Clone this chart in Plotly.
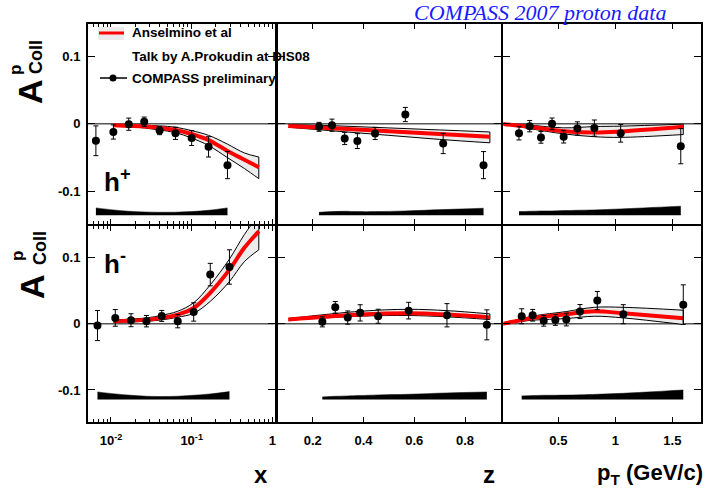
import plotly.graph_objects as go

W, H = 708, 495

# ---------------- data ----------------
# x-dependence, h+
x_hp = [0.0065, 0.0107, 0.0166, 0.0258, 0.040, 0.063, 0.100, 0.162, 0.278]
a_x_hp = [-0.025, -0.012, -0.0005, 0.003, -0.010, -0.014, -0.021, -0.034, -0.061]
e_x_hp = [0.022, 0.0105, 0.009, 0.007, 0.006, 0.009, 0.011, 0.015, 0.020]
s_x_hp = [0.0105, 0.0075, 0.0055, 0.0045, 0.004, 0.0042, 0.005, 0.007, 0.0105]
# x-dependence, h-
x_hm = [0.0068, 0.0113, 0.0177, 0.0275, 0.0426, 0.0672, 0.106, 0.170, 0.294]
a_x_hm = [-0.0026, 0.009, 0.0055, 0.004, 0.012, 0.004, 0.018, 0.0745, 0.086]
e_x_hm = [0.0227, 0.0126, 0.0098, 0.0086, 0.0083, 0.010, 0.0139, 0.017, 0.026]
s_x_hm = [0.011, 0.008, 0.006, 0.0045, 0.004, 0.0045, 0.006, 0.008, 0.0115]

# z-dependence
z_hp = [0.225, 0.276, 0.326, 0.376, 0.446, 0.565, 0.714, 0.873]
a_z_hp = [-0.0044, -0.002, -0.0216, -0.0255, -0.0142, 0.0138, -0.029, -0.061]
e_z_hp = [0.0066, 0.009, 0.009, 0.011, 0.009, 0.0105, 0.015, 0.020]
s_z_hp = [0.004, 0.005, 0.0055, 0.005, 0.005, 0.006, 0.008, 0.010]
z_hm = [0.238, 0.289, 0.338, 0.387, 0.458, 0.578, 0.729, 0.886]
a_z_hm = [0.003, 0.025, 0.0095, 0.0166, 0.0115, 0.020, 0.013, -0.0015]
e_z_hm = [0.0076, 0.0088, 0.010, 0.0123, 0.0106, 0.0126, 0.0176, 0.0227]
s_z_hm = [0.0035, 0.0045, 0.005, 0.0055, 0.0065, 0.0075, 0.0095, 0.011]

# pT-dependence
pt_hp = [0.155, 0.249, 0.348, 0.445, 0.547, 0.667, 0.816, 1.047, 1.574]
a_pt_hp = [-0.014, -0.0034, -0.020, 0.0, -0.019, -0.0068, -0.0063, -0.014, -0.033]
e_pt_hp = [0.0098, 0.0084, 0.0086, 0.0086, 0.0093, 0.0098, 0.012, 0.013, 0.026]
s_pt_hp = [0.005, 0.0055, 0.006, 0.006, 0.0065, 0.007, 0.0075, 0.009, 0.013]
pt_hm = [0.179, 0.275, 0.372, 0.474, 0.570, 0.690, 0.842, 1.070, 1.596]
a_pt_hm = [0.0115, 0.013, 0.0045, 0.006, 0.0065, 0.0186, 0.0352, 0.0146, 0.029]
e_pt_hm = [0.0113, 0.0088, 0.008, 0.0083, 0.0096, 0.0106, 0.0138, 0.0144, 0.030]
s_pt_hm = [0.005, 0.0055, 0.006, 0.006, 0.0062, 0.0066, 0.0075, 0.009, 0.014]

# theory (Anselmino et al): grid, central, upper, lower
tx_hp = [0.0107, 0.0166, 0.0258, 0.04, 0.063, 0.1, 0.162, 0.278, 0.45, 0.68]
tc_x_hp = [-0.002, -0.003, -0.004, -0.006, -0.009, -0.015, -0.024, -0.040, -0.053, -0.064]
tu_x_hp = [-0.001, -0.002, -0.002, -0.003, -0.005, -0.010, -0.017, -0.030, -0.043, -0.049]
tl_x_hp = [-0.003, -0.004, -0.006, -0.009, -0.013, -0.021, -0.032, -0.050, -0.066, -0.081]
tx_hm = [0.0107, 0.0275, 0.0426, 0.067, 0.106, 0.170, 0.294, 0.45, 0.68]
tc_x_hm = [0.004, 0.006, 0.009, 0.014, 0.024, 0.047, 0.082, 0.115, 0.140]
tu_x_hm = [0.006, 0.009, 0.013, 0.019, 0.032, 0.059, 0.098, 0.135, 0.165]
tl_x_hm = [0.0025, 0.004, 0.006, 0.010, 0.016, 0.034, 0.064, 0.094, 0.112]

tz_hp = [0.104, 0.3, 0.5, 0.7, 0.898]
tc_z_hp = [-0.003, -0.007, -0.011, -0.015, -0.019]
tu_z_hp = [-0.001, -0.003, -0.006, -0.009, -0.012]
tl_z_hp = [-0.005, -0.011, -0.017, -0.023, -0.028]
tz_hm = [0.104, 0.387, 0.578, 0.729, 0.898]
tc_z_hm = [0.0065, 0.014, 0.016, 0.014, 0.0098]
tu_z_hm = [0.008, 0.019, 0.022, 0.020, 0.0151]
tl_z_hm = [0.0055, 0.0116, 0.0126, 0.0106, 0.0065]

tpt_hp = [0.01, 0.249, 0.547, 0.816, 1.047, 1.596]
tc_pt_hp = [0.0, -0.0044, -0.0108, -0.0128, -0.0113, -0.0044]
tu_pt_hp = [0.0, -0.002, -0.0059, -0.004, -0.0034, -0.0005]
tl_pt_hp = [0.0, -0.007, -0.0148, -0.019, -0.020, -0.0158]
tpt_hm = [0.01, 0.275, 0.570, 0.816, 1.070, 1.596]
tc_pt_hm = [0.0, 0.009, 0.0146, 0.019, 0.016, 0.0083]
tu_pt_hm = [0.0, 0.0116, 0.0186, 0.025, 0.025, 0.0206]
tl_pt_hm = [0.0, 0.0055, 0.008, 0.0115, 0.009, -0.001]

sys_base_top = -0.1347
sys_base_bot = -0.114

y_ticks = [-0.1, 0.0, 0.1]
y_ticktext = ["-0.1", "0", "0.1"]
x_ticks = [0.01, 0.1, 1]
x_ticktext = ["10<sup>-2</sup>", "10<sup>-1</sup>", "1"]
x_minor = [m * d for d in (0.001, 0.01, 0.1) for m in range(2, 10)]
z_ticks = [0.2, 0.4, 0.6, 0.8]
z_ticktext = ["0.2", "0.4", "0.6", "0.8"]
pt_ticks = [0.5, 1.0, 1.5]
pt_ticktext = ["0.5", "1", "1.5"]

# ---------------- layout geometry (pixels) ----------------
# plot-area domains (frame lines of 2 px sit just outside them)
xdom_px = [(88, 274.5), (277.5, 501.3), (503.3, 701.3)]
ydom_px = [(23.7, 224), (226, 421.7)]
x_ranges = [[-2.285, 0.027], [0.0614, 0.943], [0.0175, 1.754]]
y_range = [-0.148, 0.148]


def px(v):
    return v / W


def py(v):
    return 1 - v / H


FONT = "Liberation Sans, Arial, sans-serif"
fig = go.Figure()

panels = [
    (0, 0, x_hp, a_x_hp, e_x_hp, s_x_hp, tx_hp, tc_x_hp, tu_x_hp, tl_x_hp, sys_base_top),
    (0, 1, z_hp, a_z_hp, e_z_hp, s_z_hp, tz_hp, tc_z_hp, tu_z_hp, tl_z_hp, sys_base_top),
    (0, 2, pt_hp, a_pt_hp, e_pt_hp, s_pt_hp, tpt_hp, tc_pt_hp, tu_pt_hp, tl_pt_hp, sys_base_top),
    (1, 0, x_hm, a_x_hm, e_x_hm, s_x_hm, tx_hm, tc_x_hm, tu_x_hm, tl_x_hm, sys_base_bot),
    (1, 1, z_hm, a_z_hm, e_z_hm, s_z_hm, tz_hm, tc_z_hm, tu_z_hm, tl_z_hm, sys_base_bot),
    (1, 2, pt_hm, a_pt_hm, e_pt_hm, s_pt_hm, tpt_hm, tc_pt_hm, tu_pt_hm, tl_pt_hm, sys_base_bot),
]

layout_axes = {}
shapes = []
for (r, c, dx, da, de, ds, tx, tc, tu, tl, base) in panels:
    k = r * 3 + c
    sfx = "" if k == 0 else str(k + 1)
    xa, ya = "x" + sfx, "y" + sfx

    # systematic band
    fig.add_trace(go.Scatter(x=dx, y=[base] * len(dx), mode="lines",
                             line=dict(color="black", width=0.5, shape="spline"),
                             xaxis=xa, yaxis=ya, showlegend=False, hoverinfo="skip"))
    fig.add_trace(go.Scatter(x=dx, y=[base + s for s in ds], mode="lines",
                             line=dict(color="black", width=0.5, shape="spline"),
                             fill="tonexty", fillcolor="black",
                             xaxis=xa, yaxis=ya, showlegend=False, hoverinfo="skip"))
    # theory band
    fig.add_trace(go.Scatter(x=tx, y=tl, mode="lines",
                             line=dict(color="black", width=1, shape="spline"),
                             xaxis=xa, yaxis=ya, showlegend=False, hoverinfo="skip"))
    fig.add_trace(go.Scatter(x=tx, y=tu, mode="lines",
                             line=dict(color="black", width=1, shape="spline"),
                             fill="tonexty", fillcolor="#ececec",
                             xaxis=xa, yaxis=ya, showlegend=False, hoverinfo="skip"))
    fig.add_trace(go.Scatter(x=[tx[-1], tx[-1]], y=[tl[-1], tu[-1]], mode="lines",
                             line=dict(color="black", width=1),
                             xaxis=xa, yaxis=ya, showlegend=False, hoverinfo="skip"))
    fig.add_trace(go.Scatter(x=tx, y=tc, mode="lines",
                             line=dict(color="#ff0000", width=4, shape="spline"),
                             xaxis=xa, yaxis=ya, showlegend=False, hoverinfo="skip"))
    # data
    fig.add_trace(go.Scatter(x=dx, y=da, mode="markers",
                             marker=dict(color="black", size=8),
                             error_y=dict(type="data", array=de, color="black",
                                          thickness=1, width=2.5),
                             xaxis=xa, yaxis=ya, showlegend=False))

    shapes.append(dict(type="line", xref=xa + " domain", yref=ya,
                       x0=0, x1=1, y0=0, y1=0, layer="below",
                       line=dict(color="black", width=1)))

    x0p, x1p = xdom_px[c]
    y0p, y1p = ydom_px[r]
    xdict = dict(domain=[px(x0p), px(x1p)], anchor=ya, showgrid=False, zeroline=False,
                 showline=True, linecolor="black", linewidth=2, mirror="allticks",
                 ticks="inside", ticklen=5, tickwidth=1, tickcolor="black",
                 showticklabels=(r == 1), ticklabelstandoff=6, range=x_ranges[c],
                 tickfont=dict(family=FONT, size=13, color="black", weight="bold"))
    if c == 0:
        xdict.update(type="log", tickmode="array",
                     tickvals=x_ticks, ticktext=x_ticktext,
                     minor=dict(ticks="inside", ticklen=3, tickwidth=1, tickcolor="black",
                                tickmode="array", tickvals=x_minor, showgrid=False))
    elif c == 1:
        xdict.update(tickmode="array", tickvals=z_ticks, ticktext=z_ticktext)
    else:
        xdict.update(tickmode="array", tickvals=pt_ticks, ticktext=pt_ticktext)
    ydict = dict(domain=[py(y1p), py(y0p)], anchor=xa, range=y_range,
                 showgrid=False, zeroline=False, showline=True, linecolor="black",
                 linewidth=2, mirror="allticks", ticks="inside", ticklen=7, tickwidth=1,
                 tickcolor="black", tickmode="array", tickvals=y_ticks, ticktext=y_ticktext,
                 showticklabels=(c == 0), ticklabelstandoff=3,
                 tickfont=dict(family=FONT, size=13, color="black", weight="bold"))
    layout_axes["xaxis" + sfx] = xdict
    layout_axes["yaxis" + sfx] = ydict

# legend symbols
shapes += [
    dict(type="rect", xref="paper", yref="paper", x0=px(98), x1=px(124), y0=py(40), y1=py(27),
         fillcolor="#ebebeb", line=dict(width=0)),
    dict(type="line", xref="paper", yref="paper", x0=px(99), x1=px(124), y0=py(33), y1=py(33),
         line=dict(color="#ff0000", width=3)),
    dict(type="line", xref="paper", yref="paper", x0=px(100), x1=px(127), y0=py(78), y1=py(78),
         line=dict(color="black", width=1.5)),
    dict(type="circle", xref="paper", yref="paper", x0=px(109.5), x1=px(116.5),
         y0=py(81.5), y1=py(74.5), fillcolor="black", line=dict(color="black", width=0)),
]


def ann(text, xp, yp, size, xanchor="center", yanchor="middle", angle=0, color="black",
        family=FONT, weight="bold"):
    return dict(text=text, x=px(xp), y=py(yp), xref="paper", yref="paper",
                xanchor=xanchor, yanchor=yanchor, showarrow=False, textangle=angle,
                font=dict(family=family, size=size, color=color, weight=weight))


annotations = [
    ann("Anselmino et al", 130, 33, 13.5, xanchor="left"),
    ann("Talk by A.Prokudin at DIS08", 130, 56, 13.5, xanchor="left"),
    ann("COMPASS preliminary", 130, 78, 13.5, xanchor="left"),
    ann("<i>COMPASS 2007 proton data</i>", 668, 12, 22, xanchor="right",
        color="#1a1aff", family="Liberation Serif, Times New Roman, serif", weight="normal"),
    # y-axis titles
    ann("A", 30, 92, 34, angle=-90),
    ann("p", 15, 70, 17, angle=-90),
    ann("Coll", 36, 57, 18, angle=-90),
    ann("A", 32, 287, 34, angle=-90),
    ann("p", 17, 256, 17, angle=-90),
    ann("Coll", 40, 248, 18, angle=-90),
    # charge labels
    ann("h<sup>+</sup>", 102, 180, 26, xanchor="left"),
    ann("h<sup>-</sup>", 102, 262, 26, xanchor="left"),
    # x-axis titles
    ann("x", 261, 474, 24),
    ann("z", 489, 474, 24),
    ann("p<sub>T</sub> (GeV/c)", 595, 474, 22, xanchor="left"),
]

fig.update_layout(width=W, height=H, margin=dict(l=0, r=0, t=0, b=0),
                  paper_bgcolor="white", plot_bgcolor="white",
                  shapes=shapes, annotations=annotations, showlegend=False,
                  **layout_axes)

fig.write_html("out.html", config={"displayModeBar": False},
               post_script="document.body.style.margin='0px';")
